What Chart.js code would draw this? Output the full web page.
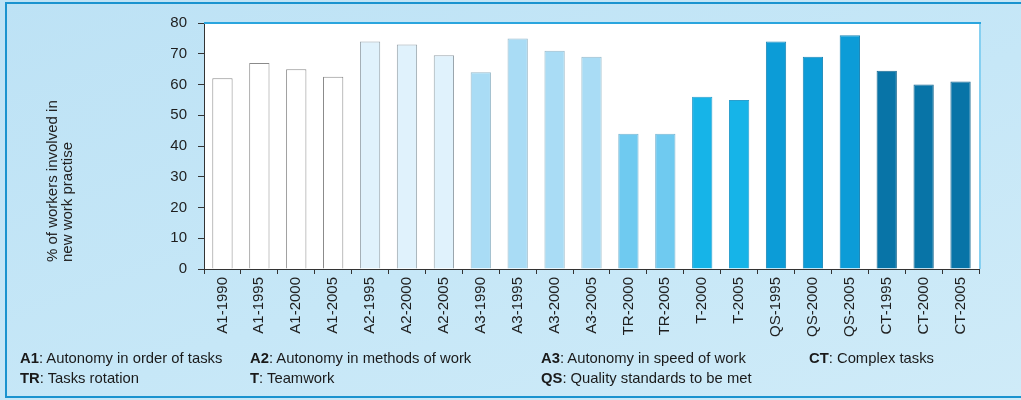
<!DOCTYPE html>
<html>
<head>
<meta charset="utf-8">
<script src="https://cdn.jsdelivr.net/npm/chart.js@4"></script>
<style>
  html, body { margin: 0; padding: 0; width: 1021px; height: 400px; overflow: hidden; }
  body { font-family: 'Liberation Sans', Arial, sans-serif; }
  #wrap { position: relative; width: 1021px; height: 400px; overflow: hidden;
          background: linear-gradient(160deg, #bde2f5 0%, #c6e7f7 55%, #cfebf8 100%); }
  #frame { position: absolute; left: 5px; top: 2px; width: 1040px; height: 396px;
           border: 2px solid #1a93cf; box-sizing: border-box; }
  canvas { position: absolute; left: 0; top: 0; }
  #ytitle { position: absolute; left: 44px; top: 262px; transform-origin: 0 0; transform: rotate(-90deg);
            white-space: nowrap; font-size: 15px; line-height: 15px; color: #222; }
  .key { position: absolute; font-size: 14.8px; line-height: 20px; color: #1a1a1a; white-space: nowrap; }
  .key b { font-weight: bold; }
</style>
</head>
<body>
<div id="wrap">
  <div id="frame"></div>
  <canvas id="c" width="1021" height="400"></canvas>
  <div id="ytitle">% of workers involved in<br>new work practise</div>
  <div class="key" style="left:20px;top:348px"><b>A1</b>: Autonomy in order of tasks</div>
  <div class="key" style="left:20px;top:368px"><b>TR</b>: Tasks rotation</div>
  <div class="key" style="left:250px;top:348px"><b>A2</b>: Autonomy in methods of work</div>
  <div class="key" style="left:250px;top:368px"><b>T</b>: Teamwork</div>
  <div class="key" style="left:541px;top:348px"><b>A3</b>: Autonomy in speed of work</div>
  <div class="key" style="left:541px;top:368px"><b>QS</b>: Quality standards to be met</div>
  <div class="key" style="left:809px;top:348px"><b>CT</b>: Complex tasks</div>
</div>
<script>
// Work-practice indicators by survey year
const categories = [
  'A1-1990', 'A1-1995', 'A1-2000', 'A1-2005',
  'A2-1995', 'A2-2000', 'A2-2005',
  'A3-1990', 'A3-1995', 'A3-2000', 'A3-2005',
  'TR-2000', 'TR-2005',
  'T-2000', 'T-2005',
  'QS-1995', 'QS-2000', 'QS-2005',
  'CT-1995', 'CT-2000', 'CT-2005'
];
const shares = [
  62, 67, 65, 62.5,
  74, 73, 69.5,
  64, 75, 71, 69,
  44, 44,
  56, 55,
  74, 69, 76,
  64.5, 60, 61
];
const yTicks = [0, 10, 20, 30, 40, 50, 60, 70, 80];

// One shade per practice group, lightest to darkest
const groupFill = { A1: '#ffffff', A2: '#e0f2fc', A3: '#a9dcf5', TR: '#6fcaf0', T: '#16b4e8', QS: '#0c9cd7', CT: '#0874a7' };
const groupEdge = { A1: '#8a8a8a', A2: '#98a4ab', A3: '#98b9c9', TR: '#7ab5d1', T: '#2b9fcd', QS: '#1b87b7', CT: '#1a6a92' };
const groupOf = c => c.split('-')[0];

const plotFrame = {
  id: 'plotFrame',
  beforeDraw(chart) {
    const { ctx, chartArea: a } = chart;
    ctx.save();
    ctx.fillStyle = '#ffffff';
    ctx.fillRect(a.left, a.top, a.right - a.left, a.bottom - a.top);
    ctx.restore();
  },
  afterDraw(chart) {
    const { ctx, chartArea: a } = chart;
    ctx.save();
    ctx.lineWidth = 2;
    ctx.strokeStyle = '#86d0f1';
    ctx.beginPath();
    ctx.moveTo(a.right + 1, a.top);
    ctx.lineTo(a.right + 1, a.bottom);
    ctx.stroke();
    ctx.strokeStyle = '#2aa5de';
    ctx.beginPath();
    ctx.moveTo(a.left, a.top);
    ctx.lineTo(a.right + 2, a.top);
    ctx.stroke();
    ctx.restore();
  }
};

new Chart(document.getElementById('c'), {
  type: 'bar',
  data: {
    labels: categories,
    datasets: [{
      data: shares,
      backgroundColor: categories.map(c => groupFill[groupOf(c)]),
      borderColor: categories.map(c => groupEdge[groupOf(c)]),
      borderWidth: 1,
      categoryPercentage: 1,
      barPercentage: 0.55
    }]
  },
  options: {
    responsive: false,
    animation: false,
    devicePixelRatio: 1,
    layout: { padding: { top: 23, right: 42, left: 0, bottom: 0 } },
    plugins: { legend: { display: false }, tooltip: { enabled: false } },
    scales: {
      x: {
        grid: { offset: true, drawOnChartArea: false, tickLength: 5, color: '#333', tickColor: '#333' },
        border: { color: '#333', width: 1 },
        ticks: {
          autoSkip: false, minRotation: 90, maxRotation: 90, padding: 3, color: '#1e1e1e',
          font: { family: "'Liberation Sans', Arial, sans-serif", size: 15 }
        },
        afterFit(s) { s.height = 131; }
      },
      y: {
        min: 0, max: 80,
        afterBuildTicks(s) { s.ticks = yTicks.map(v => ({ value: v })); },
        grid: { drawOnChartArea: false, tickLength: 6, color: '#333', tickColor: '#333' },
        border: { color: '#333', width: 1 },
        ticks: { padding: 11, color: '#1e1e1e', font: { family: "'Liberation Sans', Arial, sans-serif", size: 15 } },
        afterFit(s) { s.width = 204; }
      }
    }
  },
  plugins: [plotFrame]
});
</script>
</body>
</html>
